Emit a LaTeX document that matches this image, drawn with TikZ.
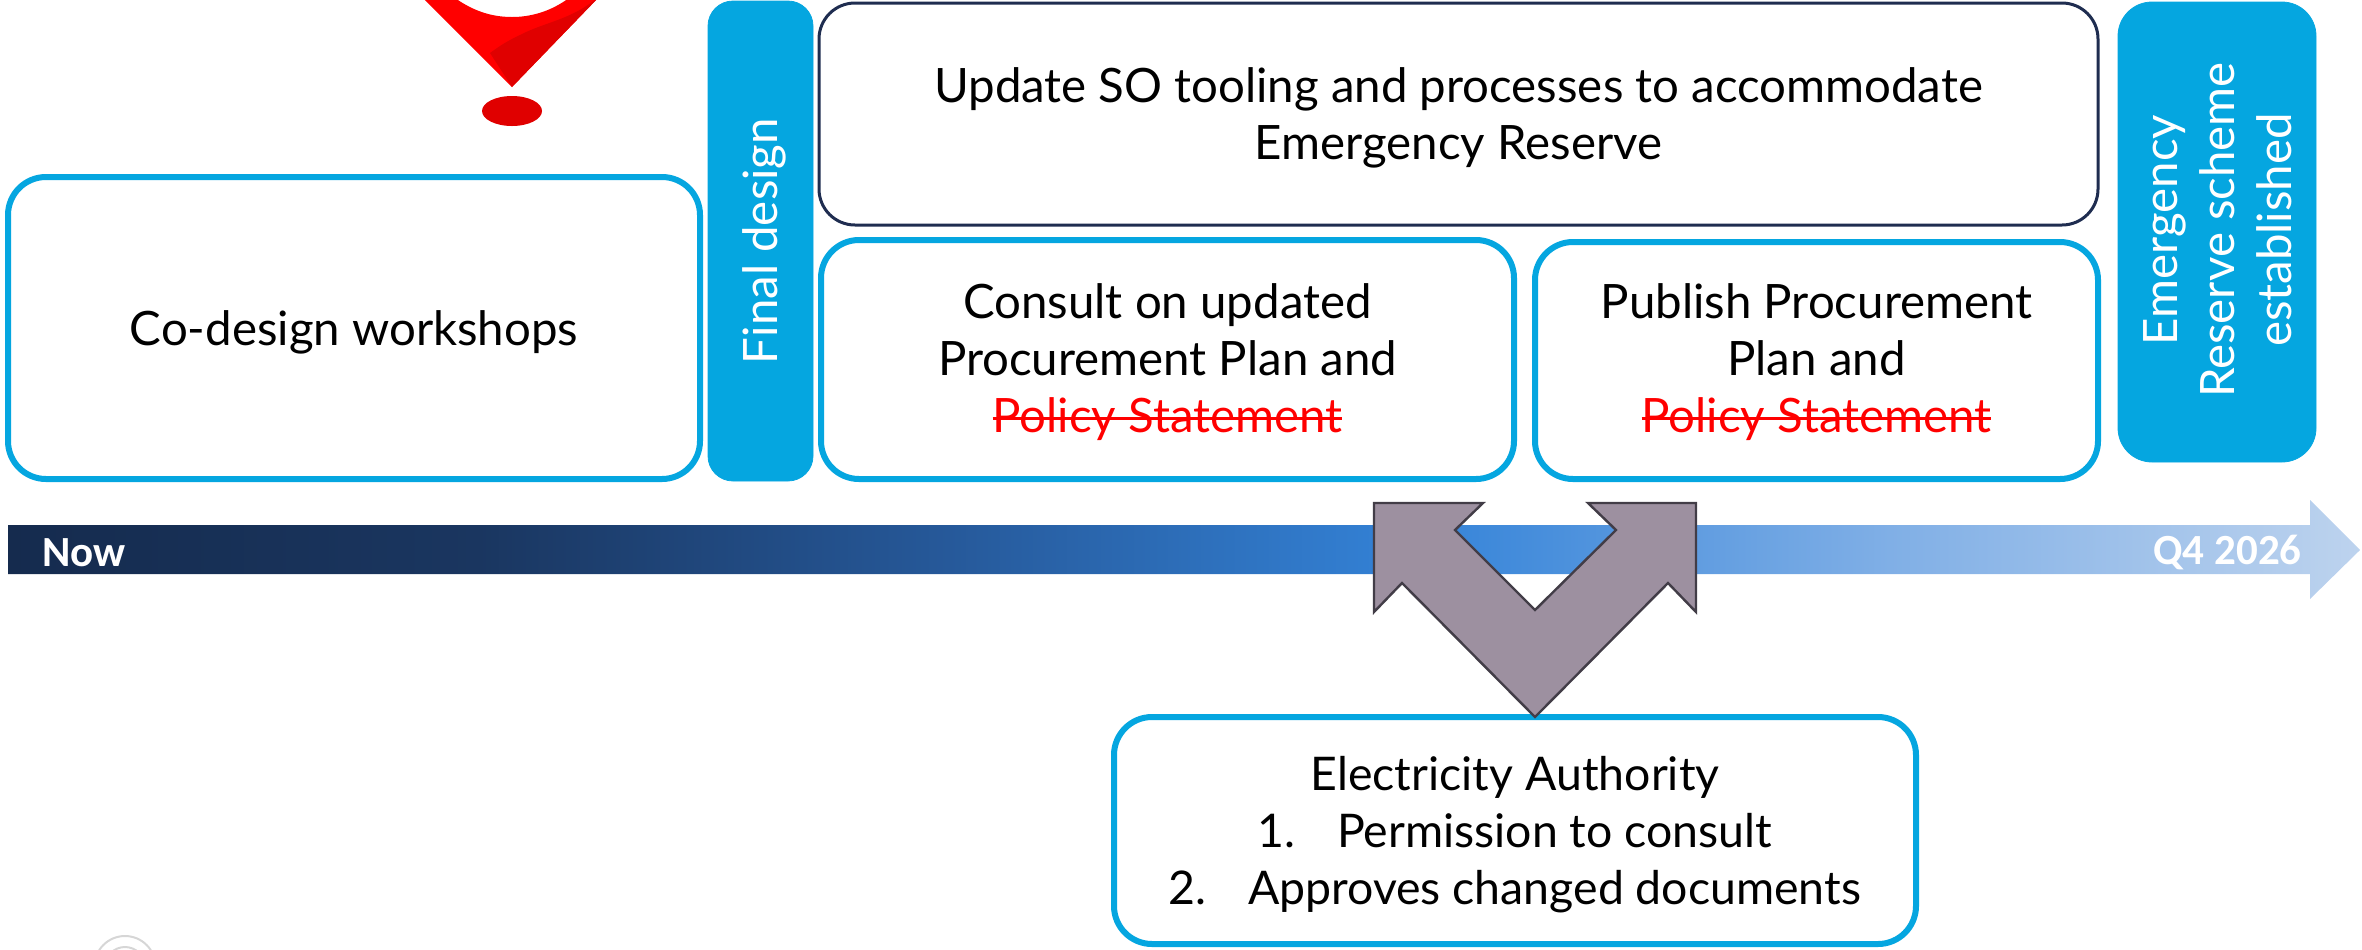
\documentclass[tikz,border=0pt]{standalone}
\usepackage{fontspec}
\setmainfont{Lato}
\newfontfamily\barfont[Ligatures=TeX]{Carlito}
\definecolor{cyanb}{HTML}{05A6E0}
\definecolor{navyb}{HTML}{1F2D50}
\definecolor{greyfill}{HTML}{9D90A0}
\definecolor{greyline}{HTML}{423D47}
\definecolor{pinred}{HTML}{FF0000}
\definecolor{pindark}{HTML}{E00000}
\definecolor{ringgrey}{HTML}{D6D6D6}
\definecolor{tbA}{HTML}{152B4E}
\definecolor{tbB}{HTML}{1A3660}
\definecolor{tbC}{HTML}{26599A}
\definecolor{tbD}{HTML}{3483D8}
\definecolor{tbE}{HTML}{80AFE6}
\definecolor{tbF}{HTML}{BDD3EE}
\pgfdeclarehorizontalshading{timebar}{100bp}{
  color(0bp)=(tbA);
  color(25bp)=(tbA);
  color(35bp)=(tbB);
  color(45bp)=(tbC);
  color(55bp)=(tbD);
  color(65bp)=(tbE);
  color(75bp)=(tbF);
  color(100bp)=(tbF)}
\newcommand\strikeit[1]{\sbox0{#1}\rlap{\rule[0.27em]{\wd0}{0.06em}}\box0}
\tikzset{
  x=0.5pt,y=-0.5pt,
  lbl/.style={font=\fontsize{23.7}{28.5}\selectfont,align=center,inner sep=0pt},
  lblsmall/.style={font=\fontsize{23.2}{28.5}\selectfont,align=center,inner sep=0pt},
  openbox/.style={draw=cyanb,line width=3pt,rounded corners=19pt,fill=white},
  navybox/.style={draw=navyb,line width=1.5pt,rounded corners=18pt,fill=white},
  barlabel/.style={font=\barfont\bfseries\fontsize{21.5}{24}\selectfont,text=white,inner sep=0pt},
}
\begin{document}
\begin{tikzpicture}
\useasboundingbox (0,0) rectangle (2362,949);
\clip (0,0) rectangle (2362,949);

% pin
\fill[pinred] (423,-2) -- (512,87) -- (598,-2) -- (569,-2)
  .. controls (550,12) and (530,17) .. (512,17) .. controls (490,17) and (472,10) .. (455,-2) -- cycle;
\fill[pindark] (512,87) -- (598,-2) -- (596,-1) .. controls (570,20) and (545,22) .. (520,35) .. controls (505,42) and (497,48) .. (490,53) -- cycle;
\fill[pindark] (512,111) ellipse [x radius=30,y radius=15];

% faint ring
\draw[ringgrey,line width=1pt] (125,966.5) circle [radius=30.5];
\draw[ringgrey,line width=1pt] (125,967) circle [radius=20];

% time bar
\path[shading=timebar] (8,525) -- (2310,525) -- (2310,500) -- (2360,550) -- (2310,599) -- (2310,574) -- (8,574) -- cycle;
\node[barlabel,anchor=west] (now) at (42,553) {Now};
\node[barlabel,anchor=east] (q4) at (2302,553) {Q4 2026};

% boxes
\node[openbox,minimum width=346pt,minimum height=151pt] (codesign) at (354,328) {};
\node[lbl,yshift=-2pt] (codesignT) at (codesign.center) {Co-design workshops};
\filldraw[cyanb,rounded corners=12.5pt] (708,1) rectangle (813,481);
\node[lbl,rotate=90,text=white] (final) at (764,241) {Final design};
\node[navybox,minimum width=639.5pt,minimum height=111pt] (tooling) at (1458.5,114) {};
\node[lbl,yshift=-2pt] (toolingT) at (tooling.center) {Update SO tooling and processes to accommodate\\Emergency Reserve};
\node[openbox,minimum width=346.5pt,minimum height=119.5pt] (consult) at (1167.5,359.5) {};
\node[lbl,yshift=-1.5pt] (consultT) at (consult.center) {Consult on updated\\Procurement Plan and\\{\color{red}\strikeit{Policy Statement}}};
\node[openbox,minimum width=281.5pt,minimum height=118.5pt] (publish) at (1816.5,360.5) {};
\node[lbl,yshift=-1pt] (publishT) at (publish.center) {Publish Procurement\\Plan and\\{\color{red}\strikeit{Policy Statement}}};
\filldraw[cyanb,rounded corners=17pt] (2118,2) rectangle (2316,462);
\node[lbl,rotate=90,text=white] (reserve) at (2218,230) {Emergency\\Reserve scheme\\established};
\node[openbox,minimum width=401pt,minimum height=113.5pt] (authority) at (1515,830.5) {};
\node[lblsmall,yshift=-2pt] (authorityT) at (authority.center) {Electricity Authority\\1.\hspace{0.55em} Permission to consult\\2.\hspace{0.55em} Approves changed documents};

% grey double arrow
\filldraw[fill=greyfill,draw=greyline,line width=1.2pt,line join=miter]
  (1374,503) -- (1483,503) -- (1455,530) -- (1535,610) -- (1616,530) -- (1588,503)
  -- (1696,503) -- (1696,612) -- (1668,583) -- (1535,717) -- (1402,583) -- (1374,612) -- cycle;
\end{tikzpicture}
\end{document}
